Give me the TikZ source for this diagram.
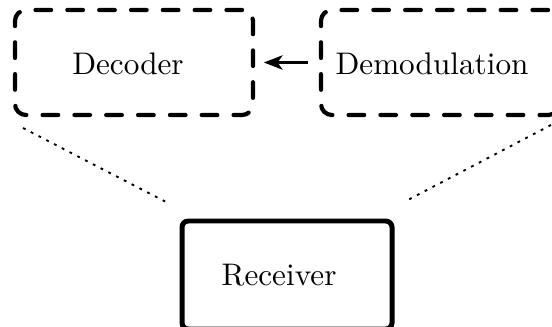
\documentclass[tikz,border=0pt]{standalone}
\usetikzlibrary{arrows.meta}
\begin{document}
\begin{tikzpicture}[x=0.3205pt,y=-0.3205pt,
  stagebox/.style={draw,line width=1.35pt,dash pattern=on 5pt off 5.2pt,
    line cap=round,rounded corners=3.5pt,minimum width=238*0.3205pt,
    minimum height=105*0.3205pt,inner sep=0pt},
  unitbox/.style={draw,line width=1.6pt,rounded corners=2pt,
    minimum width=210*0.3205pt,minimum height=108*0.3205pt,inner sep=0pt},
  label/.style={inner sep=0pt,font=\normalsize},
  link/.style={line width=0.6pt,dash pattern=on 0.9pt off 1.9pt},
  flow/.style={line width=0.85pt,-{Stealth[length=6pt,width=4.6pt,inset=1.6pt]}}]
  \useasboundingbox (0,0) rectangle (552,326);
  % processing stages
  \node[stagebox] (decbox) at (134,62.5) {};
  \node[stagebox] (dembox) at (440,62.5) {};
  \node[label] (dec) at (128,64) {Decoder};
  \node[label] (dem) at (432,64) {Demodulation};
  % receiver unit
  \node[unitbox] (rxbox) at (287,275) {};
  \node[label] (rx) at (279,275) {Receiver};
  % data flow between the stages
  \draw[flow] ([xshift=-3.5pt]dembox.west) -- ([xshift=2.8pt]decbox.east);
  % zoom-out lines towards the receiver
  \coordinate (l1) at (23,128);
  \coordinate (l2) at (168,203);
  \coordinate (r1) at (551,125);
  \coordinate (r2) at (404,202);
  \draw[link] (l1) -- (l2);
  \draw[link] (r1) -- (r2);
\end{tikzpicture}
\end{document}
